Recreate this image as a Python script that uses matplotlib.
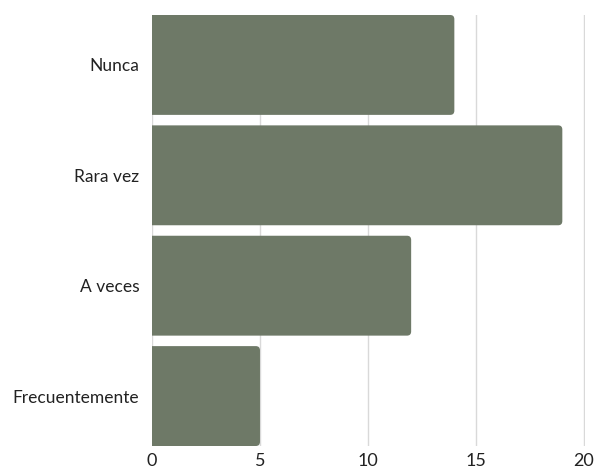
import matplotlib
matplotlib.use("Agg")
import matplotlib.pyplot as plt
from matplotlib.patches import FancyBboxPatch

categories = ["Nunca", "Rara vez", "A veces", "Frecuentemente"]
values = [14, 19, 12, 5]
xticks = [0, 5, 10, 15, 20]

plt.rcParams['font.family'] = ['Lato', 'DejaVu Sans']

fig = plt.figure(figsize=(5.94, 4.69), dpi=100)
ax = fig.add_axes([152/594, 1 - 446/469, 433/594, 431/469])

bar_h = 0.905
ax.set_xlim(0, 20.05)
ax.set_ylim(len(categories) - 1 + bar_h/2, -bar_h/2)

# bars with rounded right end; left end sits under the axis edge and is clipped
for i, v in enumerate(values):
    box = FancyBboxPatch((-0.5, i - bar_h/2), v + 0.5, bar_h,
                         boxstyle="round,pad=0,rounding_size=0.19",
                         mutation_aspect=0.2,
                         fc="#6e7967", ec="none", zorder=3)
    ax.add_patch(box)

ax.set_yticks(range(len(categories)))
ax.set_yticklabels(categories, fontsize=12.5, color="#222222")
ax.set_xticks(xticks)
ax.set_xticklabels([str(t) for t in xticks], fontsize=13, color="#222222")
ax.tick_params(length=0)
ax.tick_params(axis='y', pad=9)
ax.tick_params(axis='x', pad=5)
ax.grid(axis='x', color="#d9d9d9", linewidth=1, zorder=0)
for s in ax.spines.values():
    s.set_visible(False)

fig.savefig("out.png", dpi=100)
